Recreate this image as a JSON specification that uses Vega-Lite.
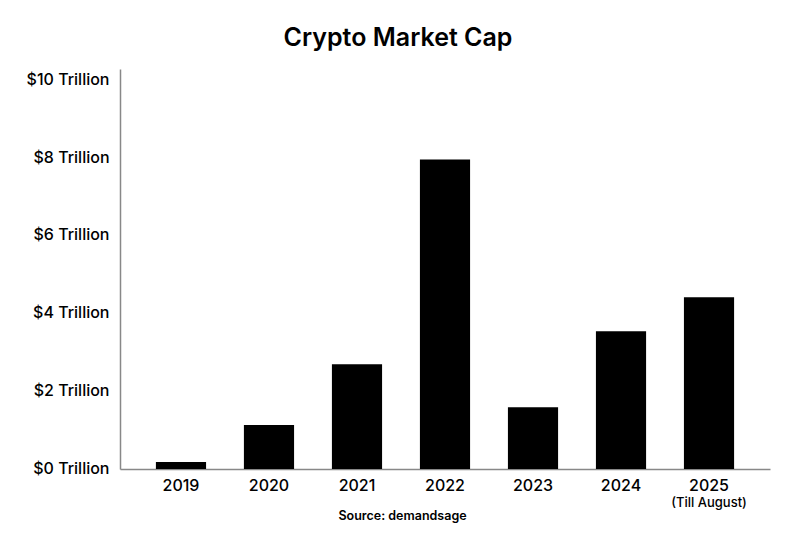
{
  "$schema": "https://vega.github.io/schema/vega-lite/v6.json",
  "autosize": {"type": "none"},
  "width": 650,
  "height": 400,
  "padding": {"left": 120, "top": 69, "right": 24, "bottom": 76},
  "background": "white",
  "config": {
    "font": "Inter",
    "view": {"stroke": null}
  },
  "title": {
    "text": "Crypto Market Cap",
    "fontSize": 25,
    "fontWeight": 600,
    "color": "#000000",
    "anchor": "middle",
    "dx": -47,
    "offset": 18
  },
  "data": {
    "values": [
      {"year": "2019", "cap": 0.18},
      {"year": "2020", "cap": 1.13},
      {"year": "2021", "cap": 2.70},
      {"year": "2022", "cap": 7.97},
      {"year": "2023", "cap": 1.59},
      {"year": "2024", "cap": 3.55},
      {"year": "2025", "cap": 4.42}
    ]
  },
  "layer": [
    {
      "mark": {"type": "bar", "color": "#000000"},
      "encoding": {
        "x": {
          "field": "year",
          "type": "nominal",
          "sort": null,
          "scale": {"paddingInner": 0.43, "paddingOuter": 0.408},
          "axis": {
            "labelAngle": 0,
            "labelFontSize": 16,
            "labelFontWeight": 500,
            "labelColor": "#000000",
            "labelPadding": 8,
            "ticks": false,
            "domainColor": "#888888",
            "domainWidth": 1.5,
            "title": "Source: demandsage",
            "titleFontSize": 12.5,
            "titleFontWeight": 600,
            "titleColor": "#000000",
            "titleX": 282,
            "titleY": 40,
            "titleAlign": "center"
          }
        },
        "y": {
          "field": "cap",
          "type": "quantitative",
          "scale": {"domain": [0, 10.3], "nice": false},
          "axis": {
            "values": [0, 2, 4, 6, 8, 10],
            "labelExpr": "'$' + datum.value + ' Trillion'",
            "labelFontSize": 16,
            "labelFontWeight": 500,
            "labelColor": "#000000",
            "labelPadding": 11,
            "labelOffset": -1,
            "ticks": false,
            "grid": false,
            "domainColor": "#888888",
            "domainWidth": 1.5,
            "title": null
          }
        }
      }
    },
    {
      "data": {"values": [{"year": "2025", "note": "(Till August)", "base": 0}]},
      "mark": {"type": "text", "fontSize": 13, "fontWeight": 500, "color": "#000000", "baseline": "middle", "dy": 34},
      "encoding": {
        "x": {"field": "year", "type": "nominal", "sort": null},
        "y": {"field": "base", "type": "quantitative"},
        "text": {"field": "note"}
      }
    }
  ]
}
